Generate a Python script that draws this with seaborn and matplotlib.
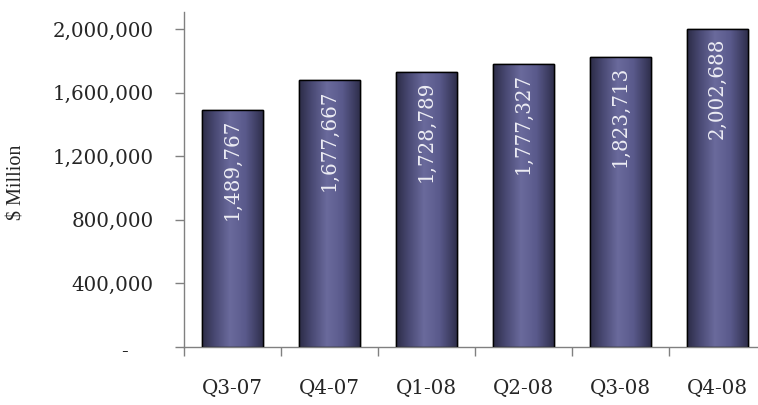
import numpy as np
import pandas as pd
import matplotlib
matplotlib.use("Agg")
import matplotlib.pyplot as plt
import matplotlib.transforms as mtransforms
from matplotlib.colors import LinearSegmentedColormap
import seaborn as sns

# Quarterly totals ($ Million)
quarters = ["Q3-07", "Q4-07", "Q1-08", "Q2-08", "Q3-08", "Q4-08"]
totals = [1489767, 1677667, 1728789, 1777327, 1823713, 2002688]
ytick_values = [0, 400000, 800000, 1200000, 1600000, 2000000]
ytick_labels = ["-", "400,000", "800,000", "1,200,000", "1,600,000", "2,000,000"]

df = pd.DataFrame({"quarter": quarters, "total": totals})

sns.set_theme(style="white")
plt.rcParams["font.family"] = ["DejaVu Serif"]

fig = plt.figure(figsize=(7.58, 4.05), dpi=100)
ax = fig.add_axes([184 / 758, 58 / 405, 582 / 758, 335 / 405])

sns.barplot(data=df, x="quarter", y="total", ax=ax, width=0.63,
            color="#4a4a78", edgecolor="black", linewidth=1.0, zorder=2)

ax.set_xlim(-0.5, len(quarters) - 0.5)
ax.set_ylim(0, 2107000)

# horizontal shading across each bar: dark edges, lighter centre
shade = LinearSegmentedColormap.from_list(
    "bar_shade",
    [(0.0, "#2c2c46"), (0.2, "#484872"), (0.45, "#6a6a9c"),
     (0.7, "#5a5a8c"), (0.9, "#3c3c60"), (1.0, "#2c2c46")])
grad = np.linspace(0, 1, 256).reshape(1, -1)
for patch in ax.patches:
    x0 = patch.get_x()
    w = patch.get_width()
    h = patch.get_height()
    im = ax.imshow(grad, cmap=shade, aspect="auto",
                   extent=[x0, x0 + w, 0, h], zorder=2.5, origin="lower")
    im.set_clip_path(patch)
    outline = plt.Rectangle((x0, 0), w, h, fill=False, edgecolor="black",
                            linewidth=1.0, zorder=3)
    ax.add_patch(outline)
ax.set_xlim(-0.5, len(quarters) - 0.5)
ax.set_ylim(0, 2107000)

# value labels inside bars, rotated, near the top
for i, v in enumerate(totals):
    ax.text(i, v - 55000, f"{v:,}", rotation=90, ha="center", va="top",
            color="#ececf4", fontsize=14.3, zorder=4)

# axes styling
for side in ["top", "right"]:
    ax.spines[side].set_visible(False)
for side in ["left", "bottom"]:
    ax.spines[side].set_color("#808080")
    ax.spines[side].set_linewidth(1.0)

ax.set_yticks(ytick_values)
ax.set_yticklabels(ytick_labels, fontsize=14.3)
ax.tick_params(axis="y", direction="out", length=6.5, width=1.0,
               color="#808080", pad=15.5, left=True)
# shift the zero label leftwards like an accounting dash
zero_lbl = ax.get_yticklabels()[0]
zero_lbl.set_transform(zero_lbl.get_transform() +
                       mtransforms.ScaledTranslation(-26 / 100, -3 / 100, fig.dpi_scale_trans))

ax.set_xticks(range(len(quarters)))
ax.set_xticklabels(quarters, fontsize=14.3)
ax.tick_params(axis="x", which="major", length=0, pad=23)
ax.set_xticks(np.arange(-0.5, len(quarters) + 0.5, 1), minor=True)
ax.tick_params(axis="x", which="minor", direction="out", length=6.5,
               width=1.0, color="#808080", bottom=True)

ax.set_xlabel("")
ax.set_ylabel("")
fig.text(17 / 758, 1 - 182 / 405, "$ Million", rotation=90, ha="center",
         va="center", fontsize=14.5, family=["Liberation Serif"])

fig.savefig("out.png", dpi=100)
